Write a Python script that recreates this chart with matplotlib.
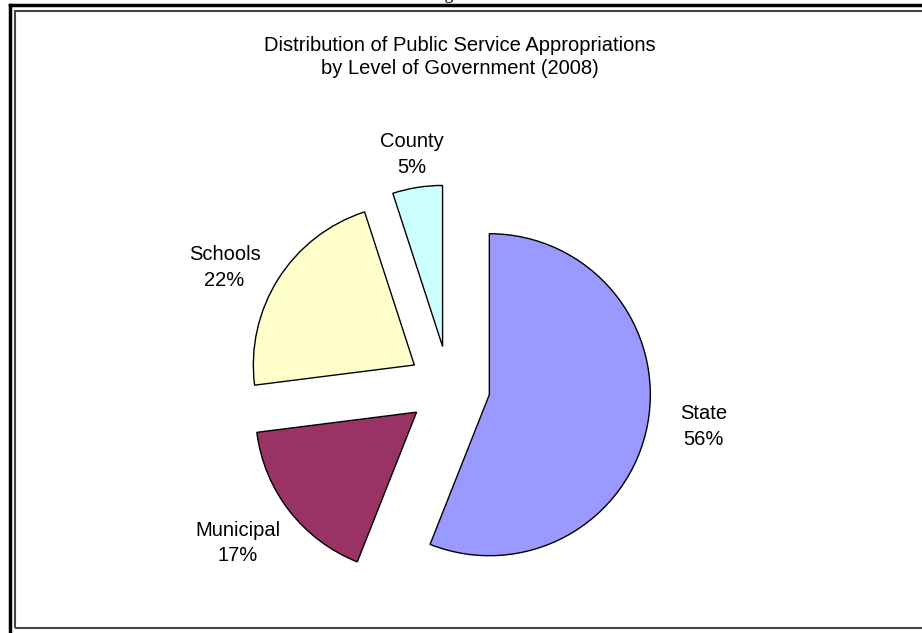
import numpy as np
import matplotlib
matplotlib.use("Agg")
import matplotlib.pyplot as plt
from matplotlib.lines import Line2D
from matplotlib.patches import Rectangle

# data
levels = ["State", "Municipal", "Schools", "County"]
shares = [56, 17, 22, 5]
colors = ["#9999FF", "#993366", "#FFFFCC", "#CCFFFF"]

# label placement: radius (in pie radii) and turn from the slice middle (deg)
label_dist = [1.60, 1.63, 1.58, 1.46]
label_turn = [2.0, -1.3, 4.3, 0.0]

plt.rcParams["font.family"] = ["Liberation Sans", "DejaVu Sans"]

W, H = 922, 633
fig = plt.figure(figsize=(W / 100, H / 100), dpi=100)

# axes in "pie radius" units: radius 161 px, centre at (449, 387) px
r_px = 161.0
cx, cy = 449.0, 387.0
ax = fig.add_axes([0, 0, 1, 1])

wedges, _ = ax.pie(shares, colors=colors, startangle=90, counterclock=False,
                   explode=[0.255] * len(shares), radius=1.0,
                   wedgeprops=dict(edgecolor="black", linewidth=1.0))
ax.set_aspect("auto")
ax.set_xlim(-cx / r_px, (W - cx) / r_px)
ax.set_ylim(-(H - cy) / r_px, cy / r_px)
ax.axis("off")

for w, name, val, d, t in zip(wedges, levels, shares, label_dist, label_turn):
    mid = np.deg2rad((w.theta1 + w.theta2) / 2 + t)
    ax.text(d * np.cos(mid), d * np.sin(mid), f"{name}\n{val}%",
            ha="center", va="center", fontsize=14.5, linespacing=1.45)

fig.text(460 / W, 1 - 57 / H,
         "Distribution of Public Service Appropriations\nby Level of Government (2008)",
         ha="center", va="center", fontsize=14.5, linespacing=1.25)

# page frame around the chart
fig.add_artist(Rectangle((15 / W, (H - 628) / H), 1.0, (628 - 11) / H,
                         transform=fig.transFigure, fill=False,
                         edgecolor="#444444", linewidth=1.5))
fig.add_artist(Line2D([10 / W, 10 / W], [0, 1 - 5 / H], transform=fig.transFigure,
                      color="black", linewidth=2.5))
fig.add_artist(Line2D([10 / W, 1.0], [1 - 5 / H, 1 - 5 / H], transform=fig.transFigure,
                      color="black", linewidth=2.5))
# caption above, cut off by the page crop
fig.text(430 / W, 1 + 1 / H, "Figure", ha="left", va="baseline",
         fontsize=12.5, family=["Liberation Serif", "DejaVu Serif"])

fig.savefig("out.png", dpi=100)
